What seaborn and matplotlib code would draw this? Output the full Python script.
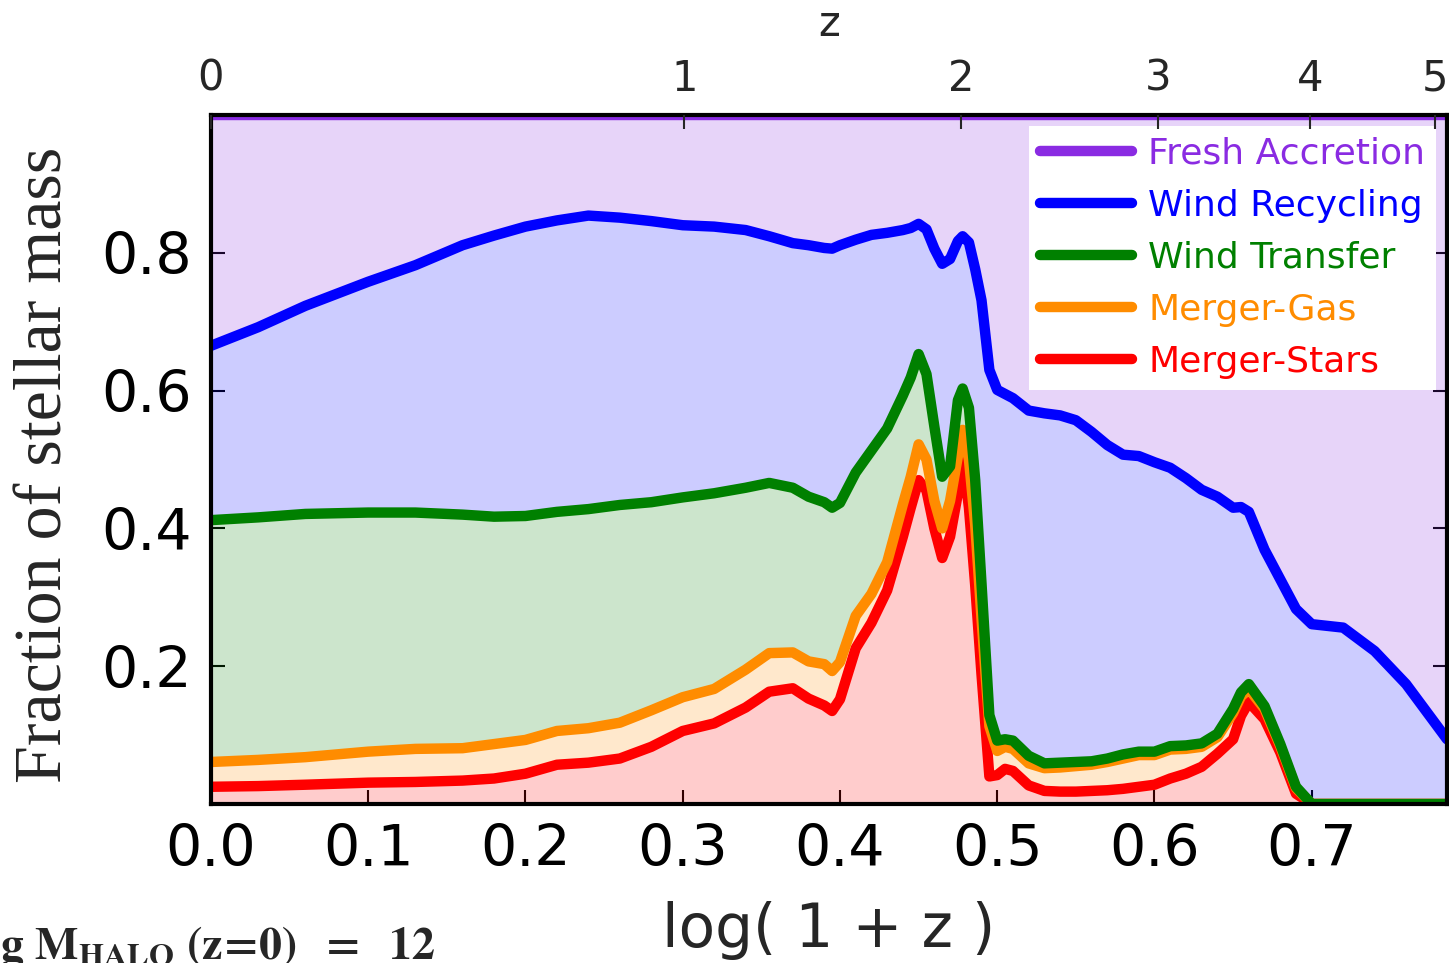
import numpy as np
import matplotlib
matplotlib.use("Agg")
import matplotlib.pyplot as plt
from matplotlib.lines import Line2D
import seaborn as sns

# log(1+z) sampling of the stacked stellar-mass fractions
x_log = [0.00, 0.03, 0.06, 0.10, 0.13, 0.16, 0.18, 0.20, 0.22, 0.24, 0.26, 0.28,
         0.30, 0.32, 0.34, 0.355, 0.37, 0.38, 0.39, 0.395, 0.40, 0.41, 0.42, 0.43,
         0.44, 0.445, 0.45, 0.455, 0.46, 0.465, 0.47, 0.475, 0.478, 0.482, 0.486,
         0.49, 0.495, 0.50, 0.505, 0.51, 0.52, 0.53, 0.54, 0.55, 0.56, 0.57, 0.58,
         0.59, 0.60, 0.61, 0.62, 0.63, 0.64, 0.65, 0.655, 0.66, 0.67, 0.68, 0.69,
         0.70, 0.72, 0.74, 0.76, 0.786]

# cumulative fraction: merger-stars
cum_merger_stars = [0.025, 0.026, 0.028, 0.031, 0.032, 0.034, 0.037, 0.044, 0.057, 0.060,
                    0.066, 0.083, 0.106, 0.117, 0.140, 0.163, 0.168, 0.153, 0.143, 0.135,
                    0.152, 0.226, 0.263, 0.310, 0.388, 0.430, 0.470, 0.455, 0.400, 0.357,
                    0.388, 0.451, 0.505, 0.430, 0.317, 0.188, 0.040, 0.042, 0.051, 0.048,
                    0.027, 0.019, 0.018, 0.018, 0.019, 0.020, 0.022, 0.025, 0.028, 0.037,
                    0.044, 0.054, 0.073, 0.094, 0.128, 0.148, 0.123, 0.075, 0.015, 0.0,
                    0.0, 0.0, 0.0, 0.0]

# cumulative fraction: + merger-gas
cum_merger_gas = [0.061, 0.064, 0.068, 0.076, 0.080, 0.081, 0.087, 0.093, 0.106, 0.110,
                  0.118, 0.136, 0.155, 0.167, 0.195, 0.219, 0.220, 0.207, 0.203, 0.193,
                  0.206, 0.273, 0.305, 0.351, 0.435, 0.475, 0.522, 0.500, 0.440, 0.400,
                  0.440, 0.505, 0.543, 0.500, 0.405, 0.269, 0.113, 0.077, 0.083, 0.080,
                  0.059, 0.052, 0.053, 0.055, 0.057, 0.061, 0.066, 0.071, 0.071, 0.079,
                  0.080, 0.083, 0.097, 0.132, 0.156, 0.167, 0.138, 0.084, 0.023, 0.0,
                  0.0, 0.0, 0.0, 0.0]

# cumulative fraction: + wind transfer
cum_wind_transfer = [0.412, 0.416, 0.421, 0.423, 0.423, 0.420, 0.417, 0.418, 0.424, 0.428,
                     0.434, 0.438, 0.445, 0.451, 0.459, 0.466, 0.459, 0.446, 0.438, 0.430,
                     0.437, 0.481, 0.513, 0.545, 0.593, 0.619, 0.653, 0.624, 0.548, 0.475,
                     0.490, 0.586, 0.603, 0.575, 0.470, 0.320, 0.129, 0.092, 0.094, 0.092,
                     0.070, 0.059, 0.060, 0.061, 0.062, 0.066, 0.072, 0.076, 0.076, 0.084,
                     0.085, 0.088, 0.102, 0.138, 0.162, 0.174, 0.142, 0.087, 0.025, 0.0,
                     0.0, 0.0, 0.0, 0.0]

# cumulative fraction: + wind recycling
cum_wind_recycling = [0.665, 0.692, 0.723, 0.758, 0.782, 0.811, 0.825, 0.838, 0.847, 0.854,
                      0.851, 0.846, 0.840, 0.838, 0.833, 0.824, 0.814, 0.811, 0.807, 0.806,
                      0.811, 0.819, 0.826, 0.829, 0.833, 0.836, 0.842, 0.834, 0.806, 0.784,
                      0.791, 0.817, 0.824, 0.815, 0.776, 0.731, 0.630, 0.601, 0.595, 0.589,
                      0.571, 0.567, 0.564, 0.557, 0.540, 0.521, 0.507, 0.505, 0.496, 0.488,
                      0.473, 0.456, 0.446, 0.430, 0.431, 0.424, 0.369, 0.326, 0.283, 0.261,
                      0.256, 0.222, 0.174, 0.094]

# everything above is fresh accretion, up to 1
cum_fresh = [1.0] * len(x_log)

labels = ["Fresh Accretion", "Wind Recycling", "Wind Transfer", "Merger-Gas", "Merger-Stars"]
colors = ["#8a2be2", "#0000ff", "#008000", "#ff8c00", "#ff0000"]

z_ticks = [0, 1, 2, 3, 4, 5]
x_ticks = [0.0, 0.1, 0.2, 0.3, 0.4, 0.5, 0.6, 0.7]
y_ticks = [0.2, 0.4, 0.6, 0.8]

sns.set_style("ticks", {"xtick.direction": "in", "ytick.direction": "in"})
plt.rcParams["font.family"] = ["DejaVu Sans"]
plt.rcParams["mathtext.fontset"] = "stix"

fig = plt.figure(figsize=(14.49, 9.63), dpi=100)
ax = fig.add_axes([0.1456, 0.1651, 0.8530, 0.7155])
ax.set_facecolor("white")

x = np.array(x_log)
levels = [np.zeros_like(x), np.array(cum_merger_stars), np.array(cum_merger_gas),
          np.array(cum_wind_transfer), np.array(cum_wind_recycling), np.array(cum_fresh)]
# bottom-up order: stars, gas, transfer, recycling, fresh
band_colors = colors[::-1]
for i, c in enumerate(band_colors):
    ax.fill_between(x, levels[i], levels[i + 1], color=c, alpha=0.2, linewidth=0, zorder=1)

for i, c in enumerate(band_colors):
    sns.lineplot(x=x, y=levels[i + 1], color=c, linewidth=7.5, ax=ax,
                 estimator=None, sort=False, legend=False, zorder=2 + i,
                 solid_joinstyle="round", solid_capstyle="round")

ax.set_xlim(0, 0.786)
ax.set_ylim(0, 1.0)
ax.set_xticks(x_ticks)
ax.set_xticklabels([f"{t:.1f}" for t in x_ticks])
ax.set_yticks(y_ticks)
ax.set_yticklabels([f"{t:.1f}" for t in y_ticks])
ax.tick_params(axis="both", direction="in", length=10, width=1.5, labelsize=41,
               colors="black", top=False, right=True)
ax.tick_params(axis="x", pad=14)
ax.tick_params(axis="y", pad=14)
for s in ax.spines.values():
    s.set_linewidth(3)
    s.set_color("black")
    s.set_visible(True)
    s.set_zorder(10)

ax.set_xlabel("log( 1 + z )", fontsize=43)
ax.xaxis.set_label_coords(0.5, -0.141)
ax.set_ylabel("Fraction of stellar mass", fontsize=49, family="Liberation Serif")
ax.yaxis.set_label_coords(-0.110, 0.492)

# redshift axis on top
ax2 = ax.twiny()
ax2.set_xlim(ax.get_xlim())
ax2.set_xticks(np.log10(1 + np.array(z_ticks)))
ax2.set_xticklabels([str(z) for z in z_ticks])
ax2.tick_params(axis="x", direction="in", length=10, width=1.5, labelsize=30, pad=11)
for s in ax2.spines.values():
    s.set_visible(False)
ax2.set_xlabel("z", fontsize=30)
ax2.xaxis.set_label_coords(0.5, 1.115)

handles = [Line2D([0], [0], color=c, linewidth=7.5) for c in colors]
leg = ax.legend(handles, labels, loc="upper right", fontsize=26, frameon=True,
                fancybox=False, framealpha=1, facecolor="white", edgecolor="none",
                handlelength=2.55, handletextpad=0.45, labelspacing=0.5,
                borderpad=0.3, borderaxespad=0.3)
leg.set_zorder(20)
for t, c in zip(leg.get_texts(), colors):
    t.set_color(c)

fig.text(-0.024, 0.004, r"$\mathbf{log\ M_{HALO}\ (z\!=\!0)\ \ =\ \ 12}$",
         fontsize=33, ha="left", va="baseline")

fig.savefig("out.png", dpi=100)
